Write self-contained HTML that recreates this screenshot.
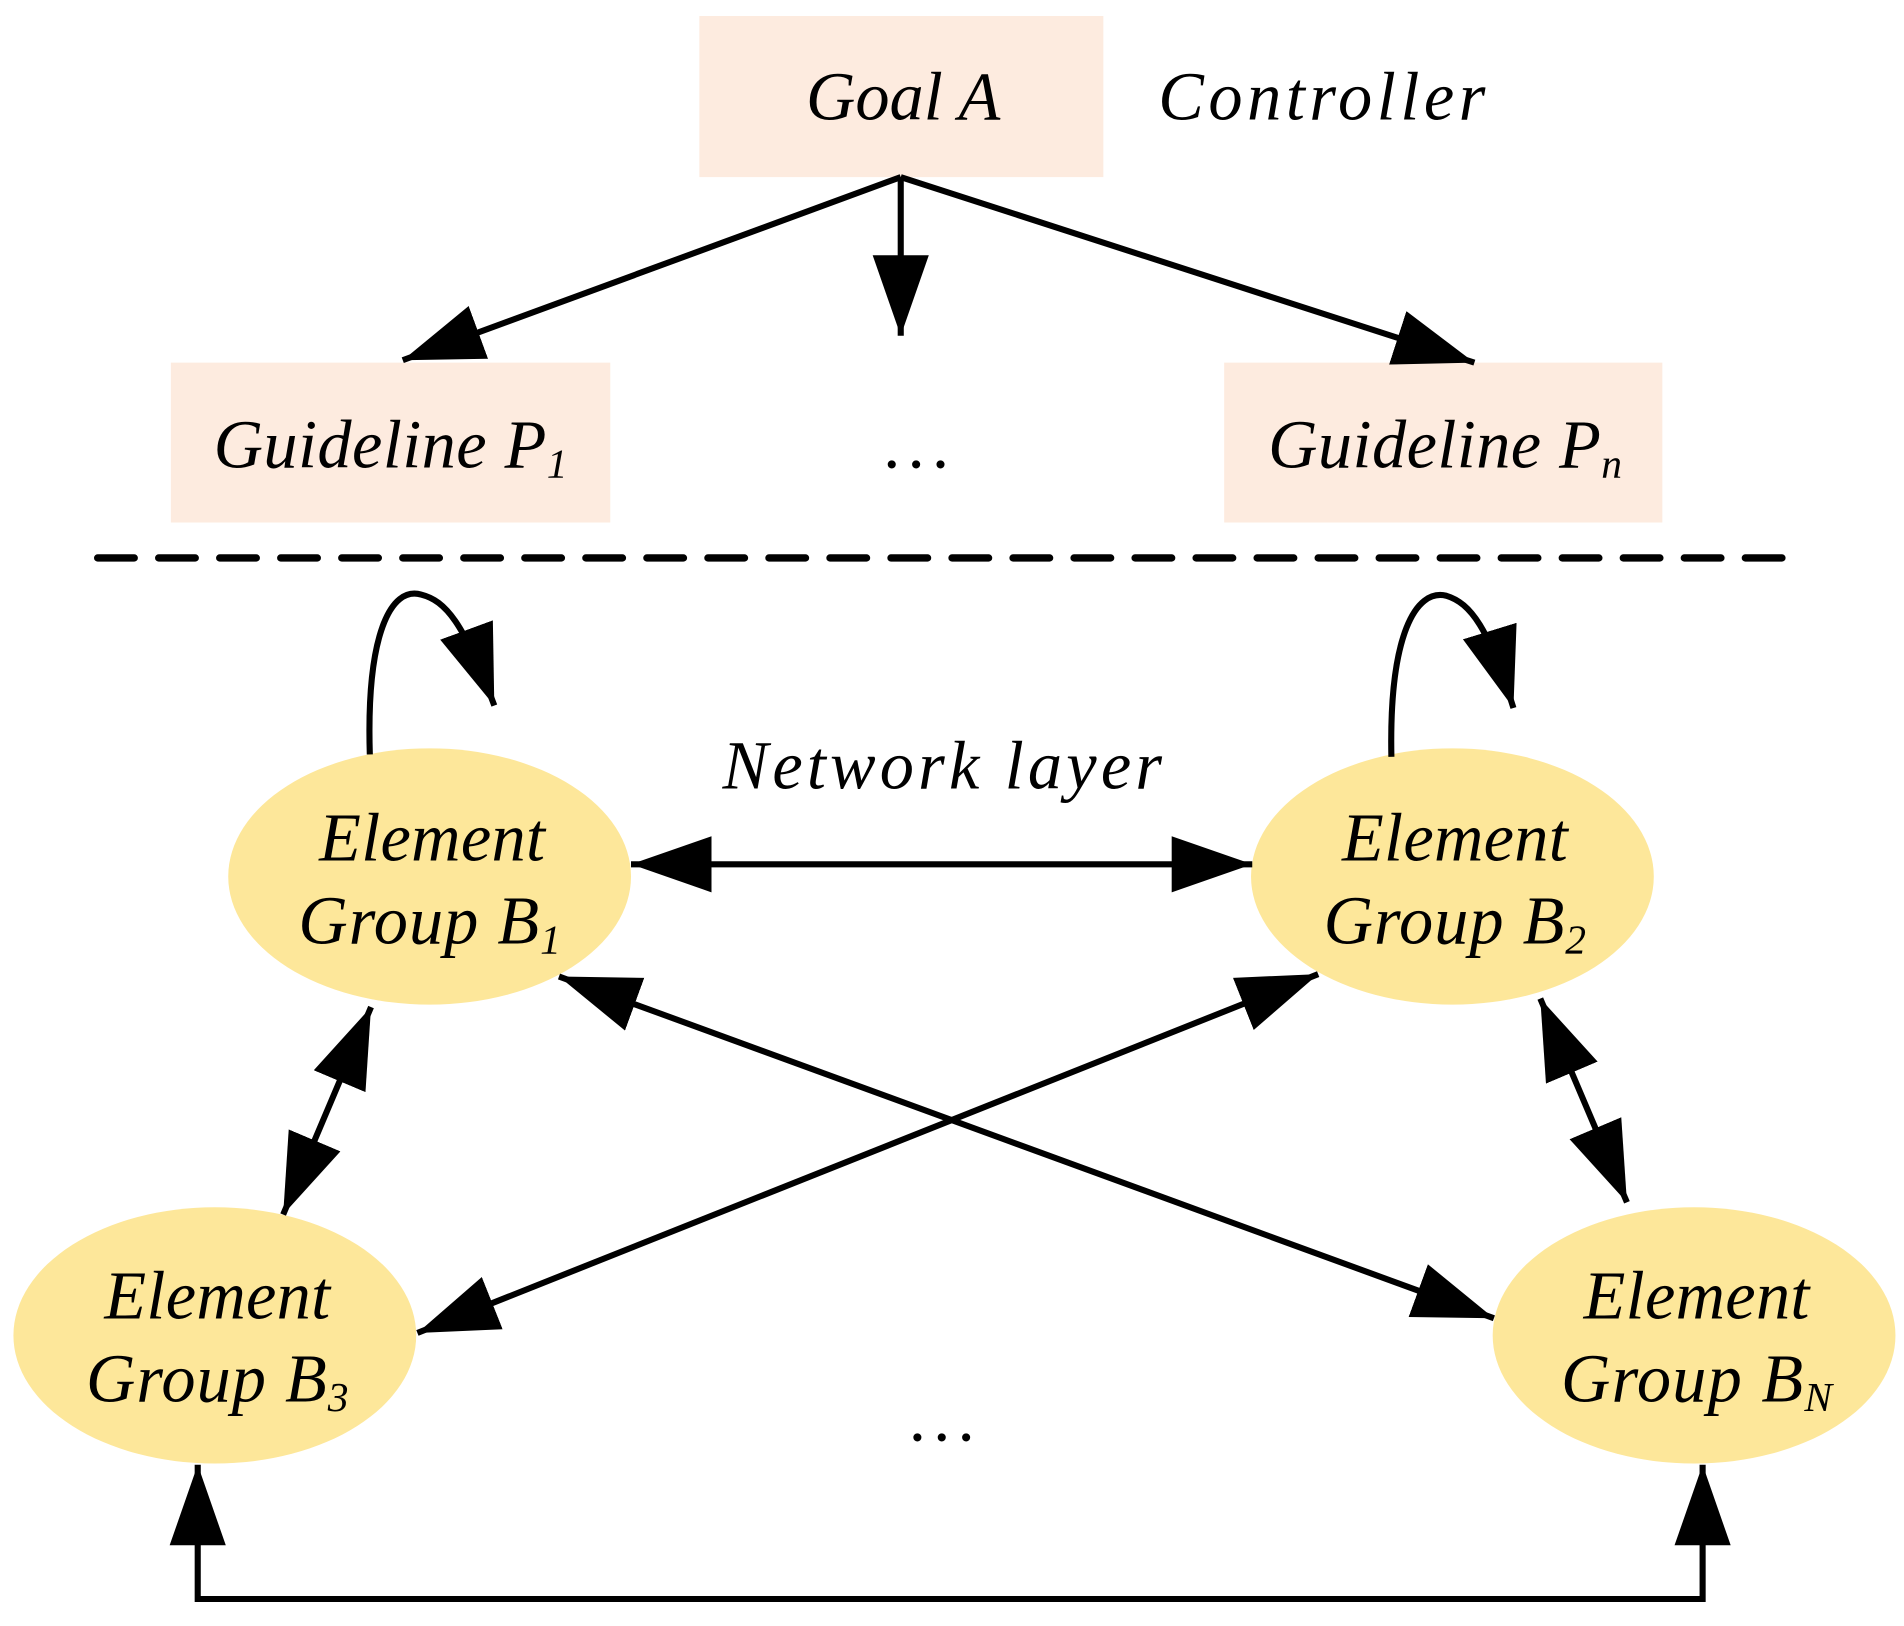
<!DOCTYPE html>
<html><head><style>html,body{margin:0;padding:0;background:#fff}svg{display:block}</style></head>
<body>
<svg width="1904" height="1626" viewBox="0 0 1560 1332" xmlns="http://www.w3.org/2000/svg">
<defs>
<marker id="a" markerUnits="userSpaceOnUse" markerWidth="70" markerHeight="50" refX="66" refY="23" orient="auto-start-reverse">
<path d="M0,0 L66,23 L0,46 Z" fill="#000"/>
</marker>
</defs>
<rect x="573" y="13" width="331" height="132" fill="#fdebdf"/>
<rect x="140" y="297" width="360" height="131" fill="#fdebdf"/>
<rect x="1003" y="297" width="359" height="131" fill="#fdebdf"/>
<g font-family="Liberation Serif, serif" font-style="italic" font-size="56" fill="#000" text-anchor="middle">
<text x="740" y="98">Goal A</text>
<text x="1083" y="98" textLength="268">Controller</text>
<text x="320" y="383" textLength="290">Guideline P<tspan font-size="34" dy="8">1</tspan></text>
<text x="1184" y="383" textLength="290">Guideline P<tspan font-size="34" dy="8">n</tspan></text>
<text x="755" y="383" letter-spacing="6">...</text>
<text x="772" y="646" textLength="360">Network layer</text>
<text x="776" y="1180" letter-spacing="6">...</text>
</g>
<g stroke="#000" stroke-width="5" fill="none">
<line x1="738" y1="145" x2="330" y2="295" marker-end="url(#a)"/>
<line x1="738" y1="145" x2="738" y2="275" marker-end="url(#a)"/>
<line x1="738" y1="145" x2="1208" y2="297" marker-end="url(#a)"/>
<line x1="80" y1="457" x2="1465" y2="457" stroke-width="6" stroke-dasharray="30,20" stroke-linecap="round"/>
</g>
<ellipse cx="352" cy="718" rx="165" ry="105" fill="#fde79a"/>
<ellipse cx="1190" cy="718" rx="165" ry="105" fill="#fde79a"/>
<ellipse cx="176" cy="1094" rx="165" ry="105" fill="#fde79a"/>
<ellipse cx="1388" cy="1094" rx="165" ry="105" fill="#fde79a"/>
<g stroke="#000" stroke-width="5" fill="none">
<path d="M303,618 C300,520 320,480 345,487 C365,492 380,510 405,578" marker-end="url(#a)"/>
<path d="M1140,620 C1138,520 1160,482 1185,488 C1205,494 1220,515 1240,580" marker-end="url(#a)"/>
<line x1="517" y1="708" x2="1026" y2="708" marker-start="url(#a)" marker-end="url(#a)"/>
<line x1="304" y1="825" x2="232" y2="995" marker-start="url(#a)" marker-end="url(#a)"/>
<line x1="1262" y1="818" x2="1333" y2="985" marker-start="url(#a)" marker-end="url(#a)"/>
<line x1="458" y1="800" x2="1224" y2="1080" marker-start="url(#a)" marker-end="url(#a)"/>
<line x1="1080" y1="798" x2="342" y2="1092" marker-start="url(#a)" marker-end="url(#a)"/>
<path d="M162,1200 L162,1310 L1395,1310 L1395,1200" marker-start="url(#a)" marker-end="url(#a)"/>
</g>
<g font-family="Liberation Serif, serif" font-style="italic" font-size="56" fill="#000" text-anchor="middle">
<text x="354" y="705" textLength="185">Element</text>
<text x="352" y="773" textLength="215">Group B<tspan font-size="34" dy="8">1</tspan></text>
<text x="1192" y="705" textLength="185">Element</text>
<text x="1192" y="773" textLength="215">Group B<tspan font-size="34" dy="8">2</tspan></text>
<text x="178" y="1080" textLength="185">Element</text>
<text x="178" y="1148" textLength="215">Group B<tspan font-size="34" dy="8">3</tspan></text>
<text x="1390" y="1080" textLength="185">Element</text>
<text x="1390" y="1148" textLength="222">Group B<tspan font-size="34" dy="8">N</tspan></text>
</g>
</svg>
</body></html>
